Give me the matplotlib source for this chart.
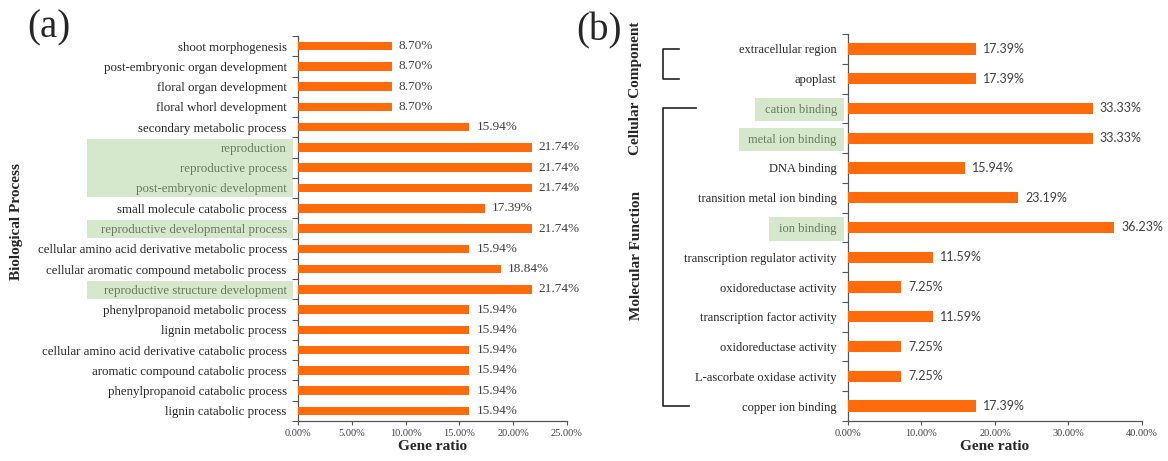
import matplotlib.pyplot as plt
from matplotlib.patches import Rectangle
from matplotlib.lines import Line2D
from matplotlib.ticker import FixedLocator, PercentFormatter
import matplotlib.transforms as mtransforms

# Biological process terms, top to bottom
bp_terms = [
    "shoot morphogenesis",
    "post-embryonic organ development",
    "floral organ development",
    "floral whorl development",
    "secondary metabolic process",
    "reproduction",
    "reproductive process",
    "post-embryonic development",
    "small molecule catabolic process",
    "reproductive developmental process",
    "cellular amino acid derivative metabolic process",
    "cellular aromatic compound metabolic process",
    "reproductive structure development",
    "phenylpropanoid metabolic process",
    "lignin metabolic process",
    "cellular amino acid derivative catabolic process",
    "aromatic compound catabolic process",
    "phenylpropanoid catabolic process",
    "lignin catabolic process",
]
bp_ratio = [8.70, 8.70, 8.70, 8.70, 15.94, 21.74, 21.74, 21.74, 17.39, 21.74,
            15.94, 18.84, 21.74, 15.94, 15.94, 15.94, 15.94, 15.94, 15.94]
# highlighted groups of consecutive terms
bp_highlight = [(5, 7), (9, 9), (12, 12)]

# Cellular component + molecular function terms, top to bottom
mf_terms = [
    "extracellular region",
    "apoplast",
    "cation binding",
    "metal ion binding",
    "DNA binding",
    "transition metal ion binding",
    "ion binding",
    "transcription regulator activity",
    "oxidoreductase activity",
    "transcription factor activity",
    "oxidoreductase activity",
    "L-ascorbate oxidase activity",
    "copper ion binding",
]
mf_ratio = [17.39, 17.39, 33.33, 33.33, 15.94, 23.19, 36.23, 11.59, 7.25,
            11.59, 7.25, 7.25, 17.39]
mf_highlight = [2, 3, 6]
cc_range = (0, 1)
mf_range = (2, 12)

BAR_COLOR = "#ff6a0a"
HL_FACE = "#d6e8cc"
HL_TEXT = "#637a5a"
TEXT = "#262626"
SERIF = ["Liberation Serif", "DejaVu Serif"]

plt.rcParams["font.family"] = SERIF


def draw_panel(ax, terms, values, xmax, step, bar_h, val_font, val_size, lab_size):
    n = len(terms)
    ypos = list(range(n))
    ax.barh(ypos, values, height=bar_h, color=BAR_COLOR, zorder=3)
    for y, v in zip(ypos, values):
        ax.annotate(f"{v:.2f}%", (v, y), xytext=(5, 0), textcoords="offset points",
                    va="center", ha="left", fontsize=val_size, color="#404040",
                    family=val_font)
    ax.set_ylim(n - 0.5, -0.5)
    ax.set_xlim(0, xmax)
    ax.set_yticks(ypos)
    ax.set_yticklabels(terms, fontsize=lab_size, color=TEXT)
    ax.tick_params(axis="y", which="major", length=0, pad=8)
    ax.yaxis.set_minor_locator(FixedLocator([i - 0.5 for i in range(n + 1)]))
    ax.tick_params(axis="y", which="minor", length=4, width=0.8, color="#555555")
    ax.xaxis.set_major_locator(FixedLocator([step * i for i in range(int(xmax / step) + 1)]))
    ax.xaxis.set_major_formatter(PercentFormatter(decimals=2))
    ax.tick_params(axis="x", labelsize=7.5, length=3, width=0.8, color="#555555",
                   labelcolor="#404040", pad=3)
    for s in ("top", "right"):
        ax.spines[s].set_visible(False)
    for s in ("left", "bottom"):
        ax.spines[s].set_color("#555555")
        ax.spines[s].set_linewidth(0.9)
    ax.set_xlabel("Gene ratio", fontsize=11, fontweight="bold", color=TEXT, labelpad=1)


fig = plt.figure(figsize=(11.68, 4.61), dpi=100)
ax_a = fig.add_axes([0.2551, 0.0868, 0.2303, 0.835])
ax_b = fig.add_axes([0.7260, 0.0868, 0.2517, 0.8395])

draw_panel(ax_a, bp_terms, bp_ratio, 25, 5, 0.42, SERIF, 9.5, 9.3)
draw_panel(ax_b, mf_terms, mf_ratio, 40, 10, 0.38, ["Lato", "DejaVu Sans"], 9, 9)

fig.canvas.draw()
renderer = fig.canvas.get_renderer()

# panel (a): wide green boxes behind the highlighted term labels
trans_a = mtransforms.blended_transform_factory(ax_a.transAxes, ax_a.transData)
for lo, hi in bp_highlight:
    ax_a.add_patch(Rectangle((-0.785, lo - 0.42), 0.768, hi - lo + 0.88,
                             transform=trans_a, facecolor=HL_FACE, edgecolor="none",
                             clip_on=False, zorder=0))
    for i in range(lo, hi + 1):
        ax_a.get_yticklabels()[i].set_color(HL_TEXT)

# panel (b): boxes hugging the label text
inv = fig.transFigure.inverted()
for i in mf_highlight:
    lab = ax_b.get_yticklabels()[i]
    lab.set_color(HL_TEXT)
    bb = lab.get_window_extent(renderer).transformed(inv)
    ax_b.add_patch(Rectangle((bb.x0 - 0.0085, bb.y0 - 0.012),
                             bb.width + 0.0145, bb.height + 0.024,
                             transform=fig.transFigure, facecolor=HL_FACE,
                             edgecolor="none", clip_on=False, zorder=0))

# brackets grouping cellular component and molecular function terms
trans_b = mtransforms.blended_transform_factory(fig.transFigure, ax_b.transData)
x_v = 663 / 1168
for (lo, hi), top_len, bot_len in ((cc_range, 16, 16), (mf_range, 33, 26)):
    fig.lines.append(Line2D([x_v + top_len / 1168, x_v, x_v, x_v + bot_len / 1168],
                            [lo, lo, hi, hi], transform=trans_b, color="#222222",
                            linewidth=1.2))

fig.text(636 / 1168, 1 - 88 / 461, "Cellular Component", rotation=90, ha="center",
         va="center", fontsize=11, fontweight="bold", color=TEXT)
fig.text(636 / 1168, 1 - 256 / 461, "Molecular Function", rotation=90, ha="center",
         va="center", fontsize=11, fontweight="bold", color=TEXT)
fig.text(17 / 1168, 1 - 222 / 461, "Biological Process", rotation=90, ha="center",
         va="center", fontsize=11, fontweight="bold", color=TEXT)

fig.text(49 / 1168, 1 - 28 / 461, "(a)", ha="center", va="center", fontsize=28,
         color=TEXT, family=["Liberation Serif"])
fig.text(599 / 1168, 1 - 31 / 461, "(b)", ha="center", va="center", fontsize=28,
         color=TEXT, family=["Liberation Serif"])

fig.savefig("out.png", dpi=100)
